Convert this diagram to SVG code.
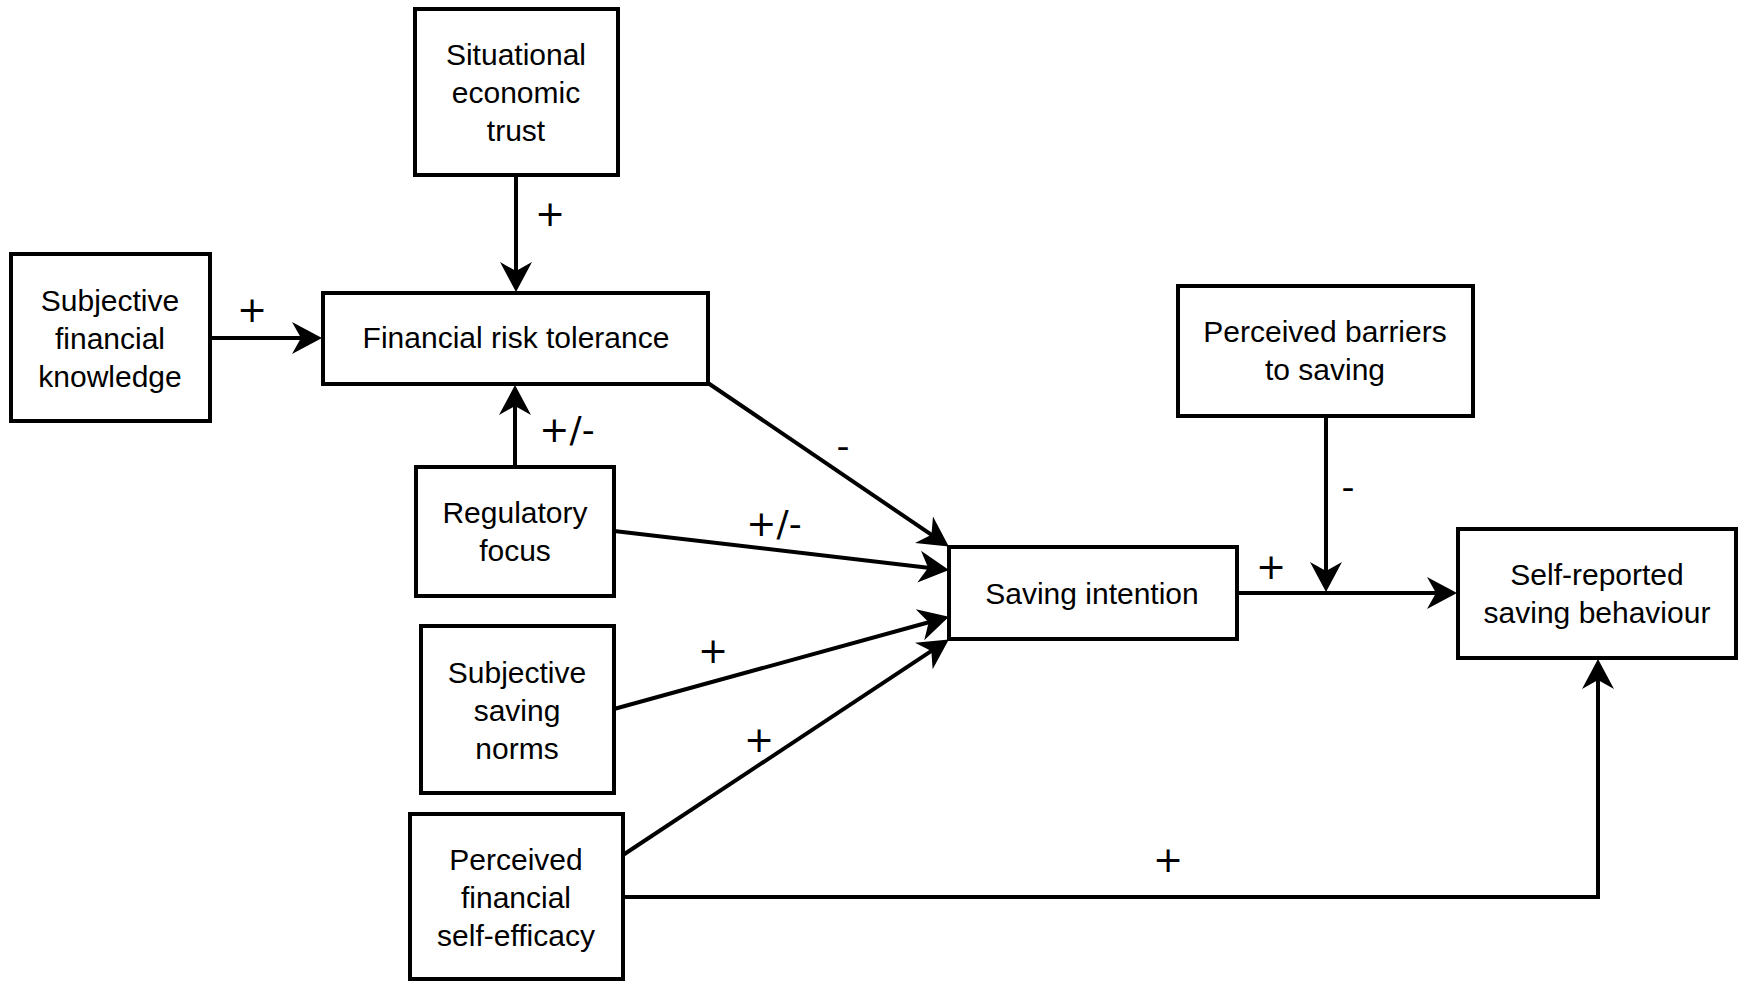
<svg xmlns="http://www.w3.org/2000/svg" width="1739" height="982" viewBox="0 0 1739 982">
<style>
.box{fill:#fff;stroke:#000;stroke-width:4}
.t{font-family:"Liberation Sans",Arial,sans-serif;font-size:30px;fill:#000;text-anchor:middle}
.lbl{font-family:"DejaVu Sans",sans-serif;font-size:36px;fill:#000;text-anchor:middle}
.c{fill:none;stroke:#000;stroke-width:4}
</style>
<defs>
<marker id="ah" markerUnits="userSpaceOnUse" markerWidth="32" markerHeight="34" viewBox="0 0 32 34" refX="12" refY="17" orient="auto">
<path d="M1,1 L31,17 L1,33 L10,17 Z" fill="#000"/>
</marker>
</defs>
<rect width="1739" height="982" fill="#fff"/>
<g id="connectors">
<path class="c" d="M516,175 L516,273" marker-end="url(#ah)"/>
<path class="c" d="M210,338 L303,338" marker-end="url(#ah)"/>
<path class="c" d="M515,467 L515,404" marker-end="url(#ah)"/>
<path class="c" d="M708,383 L933.1,535.9" marker-end="url(#ah)"/>
<path class="c" d="M614,531 L930.1,567.9" marker-end="url(#ah)"/>
<path class="c" d="M614,709 L930.6,621.8" marker-end="url(#ah)"/>
<path class="c" d="M623,855 L933,649.9" marker-end="url(#ah)"/>
<path class="c" d="M1237,593 L1438,593" marker-end="url(#ah)"/>
<path class="c" d="M1326,416 L1326,573" marker-end="url(#ah)"/>
<path class="c" d="M623,897 L1598,897 L1598,678" marker-end="url(#ah)"/>
<text class="lbl" x="550" y="226">+</text>
<text class="lbl" x="252" y="322">+</text>
<text class="lbl" x="567" y="442">+/-</text>
<text class="lbl" x="843" y="458">-</text>
<text class="lbl" x="774" y="536">+/-</text>
<text class="lbl" x="713" y="663">+</text>
<text class="lbl" x="759" y="752">+</text>
<text class="lbl" x="1271" y="579">+</text>
<text class="lbl" x="1348" y="499">-</text>
<text class="lbl" x="1168" y="872">+</text>
</g>
<g id="situational">
<rect class="box" x="415" y="9" width="203" height="166"/>
<text class="t" x="516" y="65">Situational</text>
<text class="t" x="516" y="103">economic</text>
<text class="t" x="516" y="141">trust</text>
</g>
<g id="knowledge">
<rect class="box" x="11" y="254" width="199" height="167"/>
<text class="t" x="110" y="311">Subjective</text>
<text class="t" x="110" y="349">financial</text>
<text class="t" x="110" y="387">knowledge</text>
</g>
<g id="risk">
<rect class="box" x="323" y="293" width="385" height="91"/>
<text class="t" x="516" y="348">Financial risk tolerance</text>
</g>
<g id="regulatory">
<rect class="box" x="416" y="467" width="198" height="129"/>
<text class="t" x="515" y="523">Regulatory</text>
<text class="t" x="515" y="561">focus</text>
</g>
<g id="norms">
<rect class="box" x="421" y="626" width="193" height="167"/>
<text class="t" x="517" y="683">Subjective</text>
<text class="t" x="517" y="721">saving</text>
<text class="t" x="517" y="759">norms</text>
</g>
<g id="efficacy">
<rect class="box" x="410" y="814" width="213" height="165"/>
<text class="t" x="516" y="870">Perceived</text>
<text class="t" x="516" y="908">financial</text>
<text class="t" x="516" y="946">self-efficacy</text>
</g>
<g id="intention">
<rect class="box" x="949" y="547" width="288" height="92"/>
<text class="t" x="1092" y="604">Saving intention</text>
</g>
<g id="barriers">
<rect class="box" x="1178" y="286" width="295" height="130"/>
<text class="t" x="1325" y="342">Perceived barriers</text>
<text class="t" x="1325" y="380">to saving</text>
</g>
<g id="behaviour">
<rect class="box" x="1458" y="529" width="278" height="129"/>
<text class="t" x="1597" y="585">Self-reported</text>
<text class="t" x="1597" y="623">saving behaviour</text>
</g>
</svg>
